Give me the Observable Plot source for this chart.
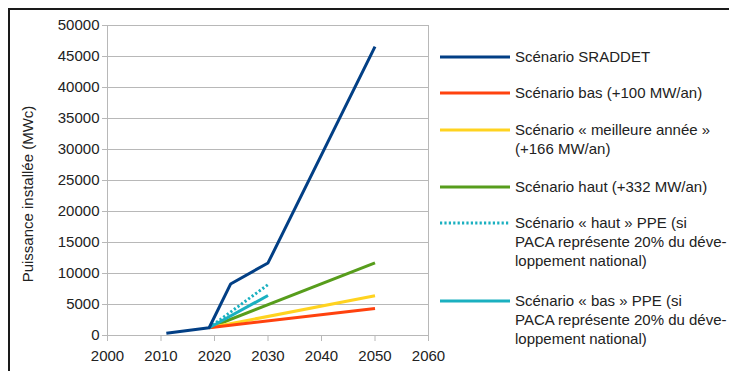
<!DOCTYPE html>
<html><head><meta charset="utf-8">
<script src="https://cdn.jsdelivr.net/npm/d3@7"></script>
<script src="https://cdn.jsdelivr.net/npm/@observablehq/plot@0.6"></script>
<style>
html,body{margin:0;padding:0;background:#fff;}
#wrap{position:relative;width:729px;height:371px;overflow:hidden;font-family:"Liberation Sans",Arial,sans-serif;background:#fff;}
#border{position:absolute;left:8px;top:8px;width:740px;height:400px;border-top:2px solid #1a1a1a;border-left:2px solid #1a1a1a;box-sizing:border-box;pointer-events:none;}
#chart{position:absolute;left:0;top:0;}
#legend{position:absolute;left:440px;top:0;font-size:15px;color:#222;}
.item{position:absolute;left:0;white-space:nowrap;}
.item svg{position:absolute;left:0;}
.item .lbl{position:absolute;left:75px;line-height:19px;}
</style></head>
<body><div id="wrap"><div id="chart"></div><div id="legend"></div><div id="border"></div></div>
<script>
const seriesNames = ["Scénario SRADDET","Scénario bas (+100 MW/an)","Scénario « meilleure année » (+166 MW/an)","Scénario haut (+332 MW/an)","Scénario « haut » PPE (si PACA représente 20% du développement national)","Scénario « bas » PPE (si PACA représente 20% du développement national)"];
const legendLines = [
  ["Scénario SRADDET"],
  ["Scénario bas (+100 MW/an)"],
  ["Scénario « meilleure année »","(+166 MW/an)"],
  ["Scénario haut (+332 MW/an)"],
  ["Scénario « haut » PPE (si","PACA représente 20% du déve-","loppement national)"],
  ["Scénario « bas » PPE (si","PACA représente 20% du déve-","loppement national)"]
];
const colors = ["#023f85","#ff420e","#ffd320","#579d1c","#1ab0c0","#1ab0c0"];
const dashed = [false,false,false,false,true,false];

const sraddetYears = [2011, 2019, 2023, 2030, 2050];
const sraddetValues = [350, 1250, 8300, 11700, 46600];
const basYears = [2019, 2050];
const basValues = [1250, 4350];
const meilleureYears = [2019, 2050];
const meilleureValues = [1250, 6400];
const hautYears = [2019, 2050];
const hautValues = [1250, 11700];
const ppeHautYears = [2019, 2030];
const ppeHautValues = [1250, 8200];
const ppeBasYears = [2019, 2030];
const ppeBasValues = [1250, 6450];

const xTicks = [2000, 2010, 2020, 2030, 2040, 2050, 2060];
const yTicks = [0,5000,10000,15000,20000,25000,30000,35000,40000,45000,50000];
const yLabel = "Puissance installée (MWc)";

const allYears = [sraddetYears, basYears, meilleureYears, hautYears, ppeHautYears, ppeBasYears];
const allValues = [sraddetValues, basValues, meilleureValues, hautValues, ppeHautValues, ppeBasValues];
const rows = [];
allYears.forEach((ys, i) => ys.forEach((y, j) => rows.push({series: seriesNames[i], year: y, value: allValues[i][j], idx: i})));

const drawOrder = [3,2,1,5,4,0];
const lineMarks = drawOrder.map(i => Plot.line(rows.filter(d => d.idx === i), {
  x: "year", y: "value", stroke: colors[i], strokeWidth: 3,
  strokeDasharray: dashed[i] ? "2.2,2.2" : null, strokeLinejoin: "miter", strokeLinecap: "butt"
}));

const W = 460, H = 371;
const plot = Plot.plot({
  width: W, height: H,
  marginLeft: 107, marginRight: 32, marginTop: 25, marginBottom: 36,
  style: {fontFamily: '"Liberation Sans", Arial, sans-serif', fontSize: "15px", color: "#222", background: "transparent"},
  x: {domain: [2000, 2060]},
  y: {domain: [0, 50000]},
  marks: [
    Plot.gridY(yTicks, {stroke: "#b8b8b8", strokeOpacity: 1}),
    Plot.ruleX([2000, 2060], {stroke: "#b8b8b8"}),
    Plot.axisY(yTicks, {tickSize: 5, tickPadding: 3, tickFormat: d => String(d), label: null, stroke: "#b8b8b8", fill: "#222"}),
    Plot.axisX(xTicks, {tickSize: 6, tickPadding: 9, tickFormat: d => String(d), label: null, stroke: "#b8b8b8", fill: "#222"}),
    ...lineMarks
  ]
});
document.getElementById("chart").appendChild(plot);
d3.select(plot).append("text")
  .attr("transform", "translate(27,194) rotate(-90)")
  .attr("text-anchor", "middle").attr("dominant-baseline", "central")
  .attr("fill", "#222").style("font-size", "15px").text(yLabel);

const rowTops = [57, 93, 130, 187, 223, 301];
const leg = d3.select("#legend");
legendLines.forEach((lines, i) => {
  const item = leg.append("div").attr("class", "item").style("top", (rowTops[i] - 10) + "px");
  const s = item.append("svg").attr("width", 72).attr("height", 20).style("top", "0px");
  s.append("line").attr("x1", 0).attr("x2", 70).attr("y1", 10).attr("y2", 10)
    .attr("stroke", colors[i]).attr("stroke-width", 3)
    .attr("stroke-dasharray", dashed[i] ? "2.2,2.2" : null);
  const t = item.append("div").attr("class", "lbl").style("top", "0px");
  t.html(lines.map(l => l.replace(/&/g,"&amp;").replace(/</g,"&lt;")).join("<br>"));
});
</script>
</body></html>
